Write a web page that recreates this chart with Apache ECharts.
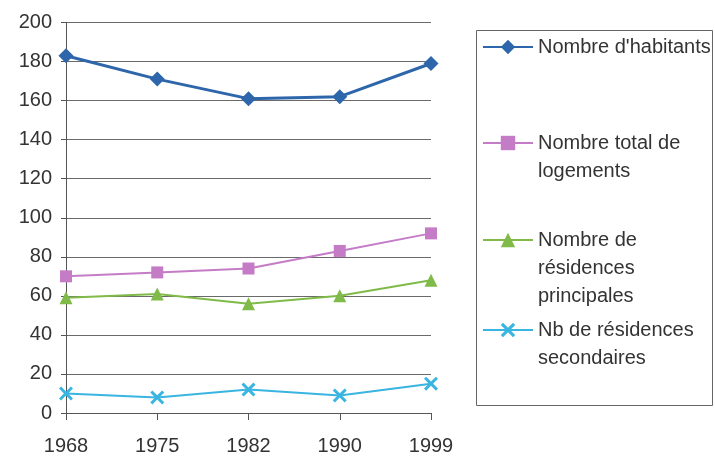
<!DOCTYPE html>
<html><head><meta charset="utf-8">
<script src="https://cdn.jsdelivr.net/npm/echarts@6/dist/echarts.min.js"></script>
<style>html,body{margin:0;padding:0;background:#fff}#c{width:715px;height:456px}</style>
</head><body><div id="c"></div>
<script>
const years = ['1968', '1975', '1982', '1990', '1999'];
const habitants = [183, 171, 161, 162, 179];
const logements = [70, 72, 74, 83, 92];
const principales = [59, 61, 56, 60, 68];
const secondaires = [10, 8, 12, 9, 15];
const names = ["Nombre d'habitants", "Nombre total de logements", "Nombre de résidences principales", "Nb de résidences secondaires"];
const legendLines = [
  ["Nombre d'habitants"],
  ["Nombre total de", "logements"],
  ["Nombre de", "résidences", "principales"],
  ["Nb de résidences", "secondaires"]
];
const FONT = '"Liberation Sans", Arial, sans-serif';
const xPath = 'path://M0,1.5L1.5,0L5,3.5L8.5,0L10,1.5L6.5,5L10,8.5L8.5,10L5,6.5L1.5,10L0,8.5L3.5,5Z';
const colors = ['#2e66ab', '#c47cc6', '#80bb49', '#3ab4e0'];
const chart = echarts.init(document.getElementById('c'), null, {renderer: 'canvas'});
const legendCenters = [47, 143, 240, 330];
const legends = names.map((n, i) => {
  const lines = legendLines[i];
  const pad = lines.length - 1;
  const all = Array(pad).fill('').concat(lines);
  const h = all.length * 28;
  return {
    data: [n], left: 482, top: legendCenters[i] - h / 2, padding: 0,
    itemWidth: 50, itemHeight: 18, selectedMode: false,
    formatter: () => all.join('\n'),
    textStyle: {fontFamily: FONT, fontSize: 20, color: '#333', lineHeight: 28}
  };
});
const mk = (name, data, color, symbol, size, width) => ({
  name, type: 'line', data, symbol, symbolSize: size, showSymbol: true,
  lineStyle: {color, width}, itemStyle: {color}, animation: false
});
chart.setOption({
  animation: false,
  grid: {left: 66, right: 284, top: 22.5, bottom: 43},
  xAxis: {
    type: 'category', data: years, boundaryGap: false,
    axisLine: {lineStyle: {color: '#555', width: 1}},
    axisTick: {show: true, length: 7, lineStyle: {color: '#555'}, alignWithLabel: true},
    axisLabel: {fontFamily: FONT, fontSize: 20, color: '#333', margin: 23}
  },
  yAxis: {
    type: 'value', min: 0, max: 200, interval: 20,
    axisLine: {show: true, lineStyle: {color: '#555', width: 1}},
    axisTick: {show: true, length: 5, lineStyle: {color: '#555'}},
    splitLine: {lineStyle: {color: '#6a6a6a', width: 1}},
    axisLabel: {fontFamily: FONT, fontSize: 20, color: '#333', margin: 14}
  },
  legend: legends,
  graphic: [{type: 'rect', shape: {x: 476.5, y: 30.5, width: 236, height: 375},
    style: {fill: 'none', stroke: '#666', lineWidth: 1}}],
  series: [
    mk(names[0], habitants, colors[0], 'diamond', 15, 3),
    mk(names[1], logements, colors[1], 'rect', 12, 2),
    mk(names[2], principales, colors[2], 'triangle', 13, 2),
    mk(names[3], secondaires, colors[3], xPath, 14, 2)
  ]
});
</script></body></html>
